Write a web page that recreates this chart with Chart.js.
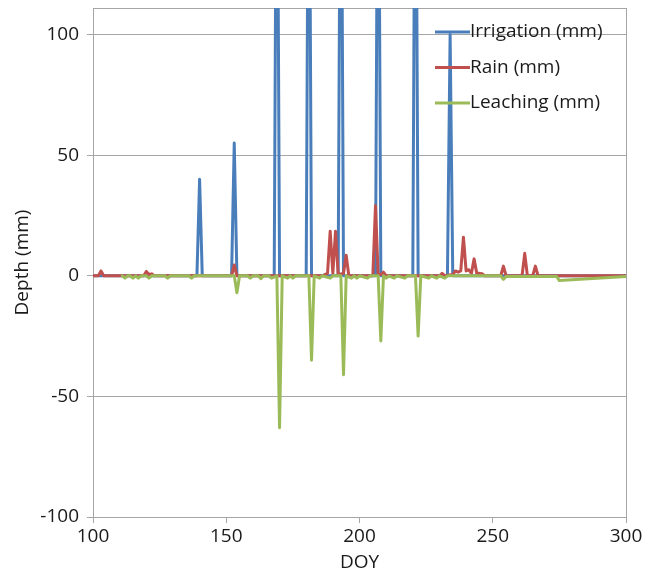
<!DOCTYPE html>
<html>
<head>
<meta charset="utf-8">
<script src="https://cdn.jsdelivr.net/npm/chart.js@4.4.1/dist/chart.umd.min.js"></script>
<style>
  html, body { margin: 0; padding: 0; background: #fff; }
  #wrap { width: 657px; height: 574px; position: relative; }
</style>
</head>
<body>
<div id="wrap"><canvas id="chart"></canvas></div>
<script>
// Irrigation events (DOY, mm) - tall spikes go past the top of the plot
const irrigationDoy = [100, 139, 140, 141, 152, 153, 154, 168, 169, 170, 180, 181, 182, 192, 193, 194, 206, 207, 208, 220, 221, 222, 233, 234, 235, 300];
const irrigationMm  = [0, 0, 40, 0, 0, 55, 0, 0, 230, 0, 0, 230, 0, 0, 230, 0, 0, 230, 0, 0, 230, 0, 0, 100, 0, 0];

// Rain (DOY, mm)
const rainDoy = [100, 102, 103, 104, 119, 120, 121, 122, 123, 152, 153, 154, 186, 187, 188, 189, 190, 191, 192, 194, 195, 196, 205, 206, 207, 208, 209, 210, 230, 231, 232, 235, 236, 237, 238, 239, 240, 241, 242, 243, 244, 245, 246, 247, 253, 254, 255, 261, 262, 263, 265, 266, 267, 300];
const rainMm  = [0, 0, 2, 0, 0, 1.8, 0.5, 0.8, 0, 0, 4.5, 0, 0, 0.5, 1, 18.5, 1, 18.5, 0.5, 1, 8.5, 0, 0, 29, 0.5, 0.5, 1.5, 0, 0, 1, 0, 0.5, 2, 1.5, 2, 16, 2, 2.5, 1, 7, 1, 1, 0.8, 0, 0, 4, 0, 0, 9.3, 0, 0, 4, 0, 0];

// Leaching (DOY, mm), negative = water leaving the profile
const leachingDoy = [111, 112, 113, 114, 115, 116, 117, 118, 120, 121, 122, 127, 128, 129, 136, 137, 138, 153, 154, 155, 158, 159, 160, 162, 163, 164, 166, 167, 169, 170, 171, 173, 174, 175, 176, 181, 182, 183, 185, 186, 189, 190, 193, 194, 195, 197, 198, 199, 200, 203, 204, 207, 208, 209, 210, 211, 213, 214, 217, 218, 221, 222, 223, 226, 227, 229, 230, 232, 233, 253, 254, 255, 274, 275, 300];
const leachingMm  = [0, -1, 0, 0, -1, 0, -1, 0, 0, -1, 0, 0, -1, 0, 0, -1, 0, 0, -7, 0, 0, -1, 0, 0, -1.2, 0, 0, -1, 0, -63, 0, -1, 0, -1, 0, 0, -35, 0, -1, 0, -1, 0, 0, -41, 0, -1, 0, -1, 0, -1, 0, 0, -27, 0, -1, 0, -1, 0, -1, 0, 0, -25, 0, -1, 0, -1, 0, -1, 0, 0, -1.5, -0.3, -0.3, -2, -0.3];

const xTicks = [100, 150, 200, 250, 300];
const yTicks = [-100, -50, 0, 50, 100];

const FONT = "'Open Sans', sans-serif";
const GRID = '#a6a6a6';
const TEXT = '#1a1a1a';

function points(xs, ys) {
  return xs.map((x, i) => ({ x: x, y: ys[i] }));
}

// Legend drawn inside the plot, top right
const insideLegend = {
  id: 'insideLegend',
  afterDatasetsDraw(chart) {
    const { ctx, chartArea } = chart;
    const x0 = chartArea.right - 191;
    let y = chartArea.top + 24;
    ctx.save();
    ctx.font = '19px ' + FONT;
    ctx.textBaseline = 'middle';
    chart.data.datasets.forEach(ds => {
      ctx.strokeStyle = ds.borderColor;
      ctx.lineWidth = 3;
      ctx.beginPath();
      ctx.moveTo(x0, y);
      ctx.lineTo(x0 + 35, y);
      ctx.stroke();
      ctx.fillStyle = TEXT;
      ctx.fillText(ds.label, x0 + 35, y);
      y += 35.5;
    });
    ctx.restore();
  }
};

// Box around the plot area
const frame = {
  id: 'frame',
  beforeDatasetsDraw(chart) {
    const { ctx, chartArea } = chart;
    ctx.save();
    ctx.strokeStyle = GRID;
    ctx.lineWidth = 1;
    ctx.strokeRect(Math.round(chartArea.left) + 0.5, Math.round(chartArea.top) + 0.5,
      Math.round(chartArea.right - chartArea.left), Math.round(chartArea.bottom - chartArea.top));
    ctx.restore();
  }
};

const lineStyle = { borderWidth: 3, pointRadius: 0, tension: 0, borderJoinStyle: 'round', borderCapStyle: 'round' };

new Chart(document.getElementById('chart'), {
  type: 'line',
  data: {
    datasets: [
      // lower order is drawn on top: leaching over rain over irrigation
      { label: 'Irrigation (mm)', data: points(irrigationDoy, irrigationMm), borderColor: '#4a7ebb', order: 2, ...lineStyle },
      { label: 'Rain (mm)', data: points(rainDoy, rainMm), borderColor: '#c0504d', order: 1, ...lineStyle },
      { label: 'Leaching (mm)', data: points(leachingDoy, leachingMm), borderColor: '#9bbb59', order: 0, ...lineStyle }
    ]
  },
  options: {
    responsive: true,
    maintainAspectRatio: false,
    animation: false,
    layout: { padding: { top: 8, right: 31, left: 0, bottom: 0 } },
    plugins: {
      legend: { display: false },
      tooltip: { enabled: false }
    },
    scales: {
      x: {
        type: 'linear',
        min: 100,
        max: 300,
        afterBuildTicks: s => { s.ticks = xTicks.map(v => ({ value: v })); },
        afterFit: s => { s.height = 57; s.paddingLeft = 0; s.paddingRight = 0; },
        grid: { drawOnChartArea: false, color: GRID, tickLength: 6 },
        border: { color: GRID },
        ticks: { color: TEXT, font: { family: FONT, size: 19 }, padding: 2, maxRotation: 0 },
        title: { display: true, text: 'DOY', color: TEXT, font: { family: FONT, size: 19 }, padding: { top: 0, bottom: 0 } }
      },
      y: {
        min: -100,
        max: 111,
        afterBuildTicks: s => { s.ticks = yTicks.map(v => ({ value: v })); },
        afterFit: s => { s.width = 93; s.paddingTop = 0; s.paddingBottom = 0; },
        grid: { color: GRID, tickLength: 6 },
        border: { color: GRID },
        ticks: { color: TEXT, font: { family: FONT, size: 19 }, padding: 8 },
        title: { display: true, text: 'Depth (mm)', color: TEXT, font: { family: FONT, size: 19 }, padding: { top: 11, bottom: 0 } }
      }
    }
  },
  plugins: [frame, insideLegend]
});
</script>
</body>
</html>
